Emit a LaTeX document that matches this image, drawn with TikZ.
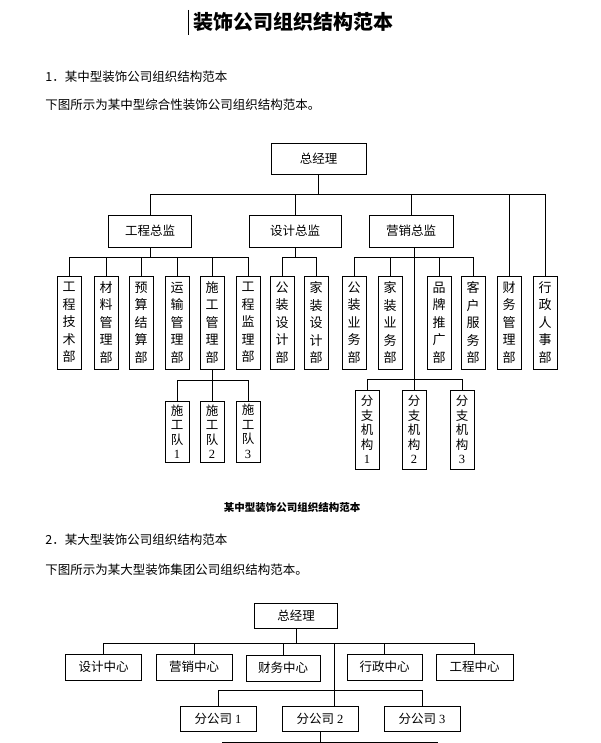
\documentclass[tikz,border=0pt]{standalone}
\usepackage{fontspec}
\setmainfont{Noto Sans CJK SC}
\newfontfamily\digf{Liberation Serif}
\begin{document}
\begin{tikzpicture}[x=1pt,y=-1pt,line width=0.9pt,
  box/.style={draw,inner sep=0pt,font=\fontsize{12.5}{13}\selectfont},
  col/.style={draw,inner sep=0pt,minimum width=24,minimum height=93,align=center,font=\fontsize{13}{17.5}\selectfont},
  sub/.style={draw,inner sep=0pt,minimum width=24,align=center,font=\fontsize{12.5}{14.5}\selectfont},
  txt/.style={anchor=west,inner sep=0pt,font=\fontsize{12.5}{13}\selectfont}]
\useasboundingbox (0,0) rectangle (600,743);
% texts
\node[inner sep=0pt,font=\fontsize{20}{21}\selectfont\bfseries] (title) at (293,22) {装饰公司组织结构范本};
\draw[line width=1pt] (188,10) -- (188,35);
\node[txt] (h1) at (45,77) {1．某中型装饰公司组织结构范本};
\node[txt] (p1) at (45,105) {下图所示为某中型综合性装饰公司组织结构范本。};
\node[inner sep=0pt,font=\fontsize{10.5}{11}\selectfont\bfseries] (cap) at (292,508) {某中型装饰公司组织结构范本};
\node[txt] (h2) at (45,540) {2．某大型装饰公司组织结构范本};
\node[txt] (p2) at (45,570) {下图所示为某大型装饰集团公司组织结构范本。};
% top chart
\node[box,minimum width=95,minimum height=31] (gm) at (318.5,158.5) {总经理};
\node[box,minimum width=83,minimum height=32] (gc) at (150,231) {工程总监};
\node[box,minimum width=92,minimum height=32] (sj) at (295,231) {设计总监};
\node[box,minimum width=84,minimum height=32] (yx) at (411,231) {营销总监};
\node[col] (c1) at (69,322.5) {工\\程\\技\\术\\部};
\node[col] (c2) at (106,322.5) {材\\料\\管\\理\\部};
\node[col] (c3) at (141,322.5) {预\\算\\结\\算\\部};
\node[col] (c4) at (177,322.5) {运\\输\\管\\理\\部};
\node[col] (c5) at (212,322.5) {施\\工\\管\\理\\部};
\node[col] (c6) at (248,322.5) {工\\程\\监\\理\\部};
\node[col] (c7) at (282,322.5) {公\\装\\设\\计\\部};
\node[col] (c8) at (316,322.5) {家\\装\\设\\计\\部};
\node[col] (c9) at (354,322.5) {公\\装\\业\\务\\部};
\node[col] (c10) at (390,322.5) {家\\装\\业\\务\\部};
\node[col] (c11) at (439,322.5) {品\\牌\\推\\广\\部};
\node[col] (c12) at (473,322.5) {客\\户\\服\\务\\部};
\node[col] (c13) at (509,322.5) {财\\务\\管\\理\\部};
\node[col] (c14) at (545,322.5) {行\\政\\人\\事\\部};
\node[sub,minimum height=61] (s1) at (177,431.5) {施\\工\\队\\{\digf 1}};
\node[sub,minimum height=61] (s2) at (212,431.5) {施\\工\\队\\{\digf 2}};
\node[sub,minimum height=61] (s3) at (248,431.5) {施\\工\\队\\{\digf 3}};
\node[sub,minimum height=79] (f1) at (367,429.5) {分\\支\\机\\构\\{\digf 1}};
\node[sub,minimum height=79] (f2) at (414,429.5) {分\\支\\机\\构\\{\digf 2}};
\node[sub,minimum height=79] (f3) at (462,429.5) {分\\支\\机\\构\\{\digf 3}};
\coordinate (b0) at (0,194);
\coordinate (b1) at (0,257);
\coordinate (b2) at (0,380);
\coordinate (ym) at (414,257);
\draw (gm.south) -- (gm.south |- b0);
\draw (gc.north |- b0) -- (c14.north |- b0);
\foreach \n in {gc,sj,yx,c13,c14} \draw (\n.north) -- (\n.north |- b0);
\draw (gc.south) -- (gc.south |- b1);
\draw (c1.north |- b1) -- (c6.north |- b1);
\foreach \n in {c1,c2,c3,c4,c5,c6} \draw (\n.north) -- (\n.north |- b1);
\draw (sj.south) -- (sj.south |- b1);
\draw (c7.north |- b1) -- (c8.north |- b1);
\foreach \n in {c7,c8} \draw (\n.north) -- (\n.north |- b1);
\draw (yx.south -| ym) -- (ym);
\draw (c9.north |- b1) -- (c12.north |- b1);
\foreach \n in {c9,c10,c11,c12} \draw (\n.north) -- (\n.north |- b1);
\draw (ym) -- (f2.north);
\draw (c5.south) -- (c5.south |- b2);
\draw (s1.north |- b2) -- (s3.north |- b2);
\foreach \n in {s1,s2,s3} \draw (\n.north) -- (\n.north |- b2);
\draw (f1.north |- 0,379) -- (f3.north |- 0,379);
\foreach \n in {f1,f3} \draw (\n.north) -- (\n.north |- 0,379);
% bottom chart
\node[box,minimum width=83,minimum height=25] (g2) at (296,615.5) {总经理};
\node[box,minimum width=76,minimum height=26] (d1) at (103.5,667) {设计中心};
\node[box,minimum width=76,minimum height=26] (d2) at (194,667) {营销中心};
\node[box,minimum width=74,minimum height=26] (d3) at (283,668) {财务中心};
\node[box,minimum width=75,minimum height=26] (d4) at (384.5,667) {行政中心};
\node[box,minimum width=77,minimum height=26] (d5) at (474.5,667) {工程中心};
\node[box,minimum width=76,minimum height=25] (e1) at (218,718.5) {分公司 {\digf 1}};
\node[box,minimum width=76,minimum height=25] (e2) at (320,718.5) {分公司 {\digf 2}};
\node[box,minimum width=76,minimum height=25] (e3) at (422,718.5) {分公司 {\digf 3}};
\coordinate (k0) at (0,643);
\coordinate (v) at (334,643);
\coordinate (k2) at (0,690);
\coordinate (bl) at (222,742);
\coordinate (br) at (438,742);
\draw (g2.south) -- (g2.south |- k0);
\draw (d1.north |- k0) -- (d5.north |- k0);
\foreach \n in {d1,d2,d3,d4,d5} \draw (\n.north) -- (\n.north |- k0);
\draw (v) -- (e2.north -| v);
\draw (e1.north |- k2) -- (e3.north |- k2);
\foreach \n in {e1,e3} \draw (\n.north) -- (\n.north |- k2);
\draw (e2.south) -- (e2.south |- bl);
\draw (bl) -- (br);
\end{tikzpicture}
\end{document}
